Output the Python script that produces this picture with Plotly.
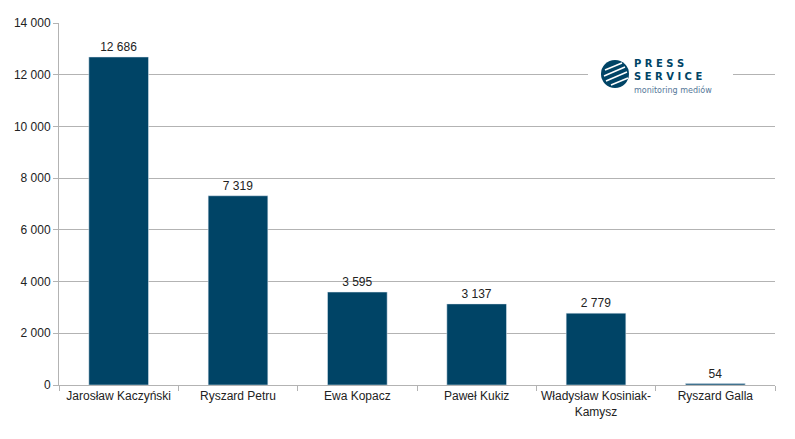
import plotly.graph_objects as go

categories = ["Jarosław Kaczyński", "Ryszard Petru", "Ewa Kopacz", "Paweł Kukiz",
              "Władysław Kosiniak-<br>Kamysz", "Ryszard Galla"]
values = [12686, 7319, 3595, 3137, 2779, 54]
y_ticks = [0, 2000, 4000, 6000, 8000, 10000, 12000, 14000]

BAR = "#004466"
W, H = 795, 439
L, R, T, B = 59, 20, 23, 54
pw, ph = W - L - R, H - T - B

def px(x):
    return (x - L) / pw

def py(y):
    return (H - B - y) / ph

fig = go.Figure(go.Bar(
    x=categories, y=values, marker_color=BAR, width=0.5,
    text=values, texttemplate="%{y:,}", textposition="outside",
    textfont=dict(size=12, color="#222222"), cliponaxis=False,
))

shapes = [
    dict(type="rect", xref="paper", yref="paper", x0=px(588), x1=px(733), y0=py(97), y1=py(55),
         fillcolor="white", line=dict(width=0), layer="above"),
    dict(type="circle", xref="paper", yref="paper", x0=px(601), x1=px(629), y0=py(88), y1=py(60),
         fillcolor=BAR, line=dict(width=0), layer="above"),
]
for a, b in [((605, 70), (622, 63)), ((604, 76), (625, 67)),
             ((606, 81), (627, 72)), ((611, 85), (628, 78))]:
    shapes.append(dict(type="line", xref="paper", yref="paper",
                       x0=px(a[0]), y0=py(a[1]), x1=px(b[0]), y1=py(b[1]),
                       line=dict(color="white", width=1.5), layer="above"))

logo_text = ("<b>P R E S S<br>S E R V I C E</b><br>"
             "<span style='font-size:8px;color:#557799'>monitoring mediów</span>")
annotations = [
    dict(xref="paper", yref="paper", x=px(632), y=py(77), text=logo_text, showarrow=False,
         xanchor="left", yanchor="middle", align="left",
         font=dict(family="DejaVu Sans", size=10, color=BAR)),
]

fig.update_layout(
    width=W, height=H,
    margin=dict(l=L, r=R, t=T, b=B),
    paper_bgcolor="white", plot_bgcolor="white",
    separators=", ",
    font=dict(family="Liberation Sans, Arial", size=12, color="#222222"),
    showlegend=False,
    shapes=shapes,
    annotations=annotations,
)
fig.update_xaxes(showline=True, linecolor="#b3b3b3", linewidth=1, ticks="outside",
                 tickson="boundaries", ticklen=5, tickcolor="#b3b3b3", showgrid=False,
                 tickfont=dict(size=12, color="#222222"))
fig.update_yaxes(range=[0, 14000], tickvals=y_ticks, tickformat=",", showgrid=True,
                 gridcolor="#b3b3b3", gridwidth=1, zeroline=False, showline=True,
                 linecolor="#b3b3b3", ticks="outside", ticklen=5, tickcolor="#b3b3b3",
                 tickfont=dict(size=12, color="#222222"))

fig.write_html("out.html")
